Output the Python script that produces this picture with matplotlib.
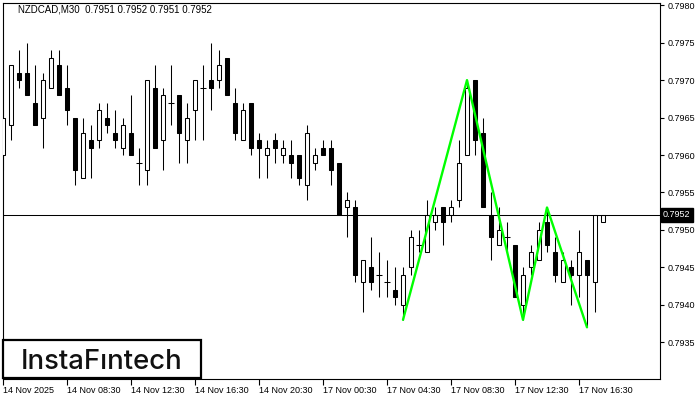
import matplotlib
matplotlib.use("Agg")
import matplotlib.pyplot as plt
from matplotlib.patches import Rectangle
from matplotlib.transforms import blended_transform_factory
import numpy as np

# ---------------- data ----------------
opens = [0.7960, 0.7964, 0.7971, 0.7971, 0.7967, 0.7965, 0.7969, 0.7972, 0.7969, 0.7965,
         0.7957, 0.7962, 0.7962, 0.7965, 0.7963, 0.7961, 0.7963, 0.7959, 0.7958, 0.7969,
         0.7962, 0.7967, 0.7968, 0.7962, 0.7966, 0.7969, 0.7970, 0.7970, 0.7973, 0.7967,
         0.7962, 0.7967, 0.7962, 0.7960, 0.7962, 0.7960, 0.7960, 0.7960, 0.7956, 0.7959,
         0.7961, 0.7961, 0.7959, 0.7953, 0.7953, 0.7943, 0.7945, 0.7944, 0.7943, 0.7942,
         0.7940, 0.7945, 0.7948, 0.7947, 0.7951, 0.7953, 0.7952, 0.7954, 0.7960, 0.7970,
         0.7963, 0.7952, 0.7948, 0.7949, 0.7948, 0.7940, 0.7945, 0.7946, 0.7951, 0.7947,
         0.7943, 0.7945, 0.7944, 0.7946, 0.7943, 0.7951]
highs = [0.7966, 0.7972, 0.7974, 0.7975, 0.7972, 0.7971, 0.7974, 0.7974, 0.7972, 0.7965,
         0.7965, 0.7964, 0.7967, 0.7967, 0.7966, 0.7965, 0.7968, 0.7961, 0.7970, 0.7972,
         0.7969, 0.7972, 0.7968, 0.7967, 0.7970, 0.7972, 0.7975, 0.7974, 0.7973, 0.7969,
         0.7967, 0.7967, 0.7963, 0.7962, 0.7963, 0.7962, 0.7962, 0.7960, 0.7964, 0.7961,
         0.7962, 0.7962, 0.7959, 0.7955, 0.7954, 0.7946, 0.7949, 0.7947, 0.7946, 0.7945,
         0.7945, 0.7950, 0.7950, 0.7954, 0.7953, 0.7953, 0.7954, 0.7962, 0.7970, 0.7970,
         0.7965, 0.7955, 0.7953, 0.7951, 0.7948, 0.7945, 0.7948, 0.7951, 0.7953, 0.7949,
         0.7947, 0.7946, 0.7950, 0.7946, 0.7952, 0.7952]
lows = [0.7958, 0.7962, 0.7969, 0.7968, 0.7964, 0.7961, 0.7969, 0.7968, 0.7964, 0.7956,
        0.7957, 0.7957, 0.7961, 0.7963, 0.7961, 0.7960, 0.7960, 0.7956, 0.7956, 0.7961,
        0.7958, 0.7964, 0.7959, 0.7959, 0.7962, 0.7962, 0.7966, 0.7969, 0.7968, 0.7962,
        0.7962, 0.7960, 0.7957, 0.7957, 0.7959, 0.7959, 0.7957, 0.7956, 0.7954, 0.7958,
        0.7960, 0.7956, 0.7952, 0.7949, 0.7943, 0.7939, 0.7942, 0.7941, 0.7941, 0.7940,
        0.7938, 0.7944, 0.7947, 0.7947, 0.7950, 0.7948, 0.7951, 0.7953, 0.7960, 0.7960,
        0.7953, 0.7946, 0.7948, 0.7947, 0.7941, 0.7938, 0.7944, 0.7946, 0.7947, 0.7943,
        0.7943, 0.7940, 0.7941, 0.7937, 0.7939, 0.7951]
closes = [0.7965, 0.7972, 0.7970, 0.7968, 0.7964, 0.7970, 0.7973, 0.7968, 0.7966, 0.7958,
          0.7963, 0.7961, 0.7966, 0.7964, 0.7962, 0.7964, 0.7960, 0.7959, 0.7970, 0.7961,
          0.7968, 0.7967, 0.7963, 0.7965, 0.7970, 0.7969, 0.7969, 0.7972, 0.7968, 0.7963,
          0.7966, 0.7961, 0.7961, 0.7961, 0.7961, 0.7961, 0.7959, 0.7957, 0.7963, 0.7960,
          0.7960, 0.7958, 0.7952, 0.7954, 0.7944, 0.7946, 0.7943, 0.7944, 0.7943, 0.7941,
          0.7944, 0.7949, 0.7948, 0.7952, 0.7952, 0.7951, 0.7953, 0.7959, 0.7969, 0.7962,
          0.7953, 0.7949, 0.7950, 0.7949, 0.7941, 0.7944, 0.7947, 0.7950, 0.7948, 0.7944,
          0.7946, 0.7944, 0.7947, 0.7944, 0.7952, 0.7952]

x_tick_bars = [0, 8, 16, 24, 32, 40, 48, 56, 64, 72]
x_tick_labels = ["14 Nov 2025", "14 Nov 08:30", "14 Nov 12:30", "14 Nov 16:30",
                 "14 Nov 20:30", "17 Nov 00:30", "17 Nov 04:30", "17 Nov 08:30",
                 "17 Nov 12:30", "17 Nov 16:30"]
y_ticks = [0.7935, 0.7940, 0.7945, 0.7950, 0.7955, 0.7960, 0.7965, 0.7970, 0.7975, 0.7980]

pattern_bars = [50, 58, 65, 68, 73]
pattern_prices = [0.7938, 0.7970, 0.7938, 0.7953, 0.7937]

last_price = 0.7952
title_text = "NZDCAD,M30  0.7951 0.7952 0.7951 0.7952"
logo_text = "InstaF\u0131ntech"

# ---------------- figure ----------------
W, H = 700, 400
fig = plt.figure(figsize=(7, 4), dpi=100)
fig.patch.set_facecolor("white")
ax = fig.add_axes([2.5 / W, 21 / H, 657 / W, 376 / H])
ax.set_facecolor("white")

n = len(opens)
xs = np.arange(n)
ax.set_xlim(-0.0625, -0.0625 + 657 / 8)
ax.set_ylim(0.79301, 0.79803)

lw = 0.75
ax.vlines(xs, lows, highs, color="black", linewidth=lw, zorder=2)
bw = 0.52
for i in range(n):
    o, c = opens[i], closes[i]
    if c > o:
        ax.add_patch(Rectangle((xs[i] - bw / 2, o), bw, c - o, facecolor="white",
                               edgecolor="black", linewidth=lw, zorder=3))
    elif c < o:
        ax.add_patch(Rectangle((xs[i] - bw / 2, c), bw, o - c, facecolor="black",
                               edgecolor="black", linewidth=lw, zorder=3))
    else:
        ax.hlines(o, xs[i] - bw / 2 - 0.06, xs[i] + bw / 2 + 0.06, color="black",
                  linewidth=lw, zorder=3)

ax.axhline(last_price, color="black", linewidth=lw, zorder=4)
ax.plot(pattern_bars, pattern_prices, color="#00ff00", linewidth=1.7, zorder=5,
        solid_capstyle="round")

# axes styling
for s in ax.spines.values():
    s.set_color("black")
    s.set_linewidth(0.8)

ax.yaxis.tick_right()
ax.set_yticks(y_ticks)
ax.set_yticklabels([f"{v:.4f}" for v in y_ticks])
ax.set_xticks(x_tick_bars)
ax.set_xticklabels(x_tick_labels)
for lab in ax.get_xticklabels():
    lab.set_horizontalalignment("left")
ax.tick_params(axis="y", length=3, width=0.8, pad=2.5, labelsize=6.5,
               labelfontfamily="Liberation Sans", colors="black")
ax.tick_params(axis="x", length=4, width=0.8, pad=1.2, labelsize=6.5,
               labelfontfamily="Liberation Sans", colors="black")

# current price label
trans = blended_transform_factory(ax.transAxes, ax.transData)
ax.text(1.0 + 3.5 / 657, last_price, "0.7952", transform=trans, ha="left", va="center",
        fontsize=6.5, family="Liberation Sans", color="white", zorder=10, clip_on=False,
        bbox=dict(boxstyle="square,pad=0.25", facecolor="black", edgecolor="black"))

# title
fig.text(18 / W, 1 - 13 / H, title_text, ha="left", va="baseline", fontsize=7,
         family="Liberation Sans", color="black")

# logo
fig.add_artist(Rectangle((3 / W, 22 / H), 198 / W, 38 / H, transform=fig.transFigure,
                         facecolor="white", edgecolor="black", linewidth=1.6, zorder=20))
fig.text(102 / W, 1 - 369.3 / H, logo_text, ha="center", va="baseline", fontsize=19.8,
         family="Inter", fontweight="medium", color="#111111", zorder=21)

fig.savefig("out.png", dpi=100)
